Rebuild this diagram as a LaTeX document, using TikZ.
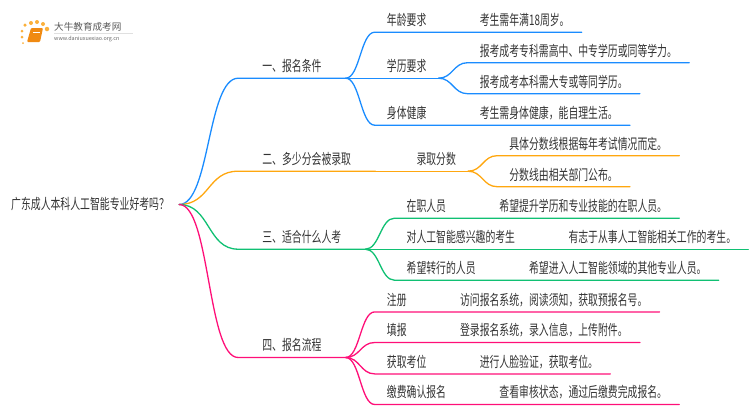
\documentclass[tikz,border=0pt]{standalone}
\usepackage{fontspec}
\setmainfont[FakeStretch=0.68]{Noto Sans CJK SC}
\newfontfamily\logofont{Noto Sans CJK SC}
\usetikzlibrary{positioning}
\definecolor{mapblue}{HTML}{1A8CFF}
\definecolor{maporange}{HTML}{FFA70F}
\definecolor{mapgreen}{HTML}{10C073}
\definecolor{mappink}{HTML}{FF0F78}
\definecolor{maptext}{HTML}{333333}
\definecolor{logogold}{HTML}{FBB03B}
\definecolor{logobook}{HTML}{F08A12}
\begin{document}
\begin{tikzpicture}[x=1pt,y=-1pt,font=\fontsize{14.5pt}{16pt}\selectfont,text=maptext,node distance=29pt,
  rt/.style={inner xsep=10pt,inner ysep=0pt,anchor=west},
  br/.style={inner xsep=24pt,inner ysep=5pt,text height=12.5pt,text depth=1.5pt},
  kid/.style={inner xsep=12pt,inner ysep=5pt,text height=12.5pt,text depth=1.5pt},
  wire/.style={line width=1.3pt,line cap=round},
  kink/.style={to path={.. controls +(#1,0) and +(-#1,0) .. (\tikztotarget)}},
  dot/.style={circle,fill=logogold,inner sep=0pt}]
  \useasboundingbox (0,0) rectangle (750,410);
  % logo
  \node[dot,minimum size=3pt] (d1) at (22,31) {};
  \node[dot,minimum size=3pt] (d2) at (22,37) {};
  \node[dot,minimum size=2pt] (d3) at (23,43) {};
  \node[dot,minimum size=3.5pt] (d4) at (25,25) {};
  \node[dot,minimum size=4pt] (d5) at (31,23) {};
  \node[dot,minimum size=4pt] (d6) at (37,22) {};
  \node[dot,minimum size=4pt] (d7) at (43,24) {};
  \node[dot,minimum size=4.5pt] (d8) at (47,29) {};
  \fill[logobook,rounded corners=1pt] (31,28) -- (43,28) -- (40,42) -- (27,42) -- cycle;
  \draw[white,line width=.5pt] (33,32) -- (40,32);
  \draw[black!12,line width=.5pt] (54,33) -- (133,33);
  \node[inner sep=0pt,anchor=west,text=black!65] (logoname) at (54,27)
    {\logofont\fontsize{9.6pt}{11pt}\selectfont 大牛教育成考网};
  \node[inner sep=0pt,anchor=west,text=black!60] (logourl) at (54,39)
    {\logofont\fontsize{5.4pt}{6pt}\selectfont www.daniuxuexiao.org.cn};
  % root and branches
  \node[rt] (root) at (1,204.5) {广东成人本科人工智能专业好考吗？};
  \node[br,right=59pt of root,yshift=138.5pt] (apply) {一、报名条件};
  \node[br,right=59pt of root,yshift=45.5pt] (score) {二、多少分会被录取};
  \node[br,right=59pt of root,yshift=-32.5pt] (who) {三、适合什么人考};
  \node[br,right=59pt of root,yshift=-140.8pt] (flow) {四、报名流程};
  % first branch
  \node[kid,right=of apply,yshift=46pt] (age) {年龄要求};
  \node[kid,right=of age] (ageinfo) {考生需年满18周岁。};
  \node[kid,right=of apply] (edu) {学历要求};
  \node[kid,right=of edu,yshift=15.5pt] (edua) {报考成考专科需高中、中专学历或同等学力。};
  \node[kid,right=of edu,yshift=-15.5pt] (edub) {报考成考本科需大专或等同学历。};
  \node[kid,right=of apply,yshift=-47pt] (body) {身体健康};
  \node[kid,right=of body] (bodyinfo) {考生需身体健康，能自理生活。};
  % second branch
  \node[kid,right=of score] (line) {录取分数};
  \node[kid,right=of line,yshift=15.5pt] (linea) {具体分数线根据每年考试情况而定。};
  \node[kid,right=of line,yshift=-15.5pt] (lineb) {分数线由相关部门公布。};
  % third branch
  \node[kid,right=of who,yshift=31pt] (job) {在职人员};
  \node[kid,right=of job] (jobinfo) {希望提升学历和专业技能的在职人员。};
  \node[kid,right=of who] (fan) {对人工智能感兴趣的考生};
  \node[kid,right=of fan] (faninfo) {有志于从事人工智能相关工作的考生。};
  \node[kid,right=of who,yshift=-31pt] (move) {希望转行的人员};
  \node[kid,right=of move] (moveinfo) {希望进入人工智能领域的其他专业人员。};
  % fourth branch
  \node[kid,right=of flow,yshift=45.6pt] (sign) {注册};
  \node[kid,right=of sign] (signinfo) {访问报名系统，阅读须知，获取预报名号。};
  \node[kid,right=of flow,yshift=15pt] (fill) {填报};
  \node[kid,right=of fill] (fillinfo) {登录报名系统，录入信息，上传附件。};
  \node[kid,right=of flow,yshift=-16.4pt] (seat) {获取考位};
  \node[kid,right=of seat] (seatinfo) {进行人脸验证，获取考位。};
  \node[kid,right=of flow,yshift=-47pt] (pay) {缴费确认报名};
  \node[kid,right=of pay] (payinfo) {查看审核状态，通过后缴费完成报名。};
  % connectors
  \draw[wire,mapblue] (root.east) to[kink=31] (apply.south west) -- (apply.south east);
  \draw[wire,maporange] (root.east) to[kink=31] (score.south west) -- (score.south east);
  \draw[wire,mapgreen] (root.east) to[kink=31] (who.south west) -- (who.south east);
  \draw[wire,mappink] (root.east) to[kink=31] (flow.south west) -- (flow.south east);
  \draw[wire,mapblue] (apply.south east) to[kink=14] (age.south west) -- (ageinfo.south east);
  \draw[wire,mapblue] (apply.south east) -- (edu.south west) -- (edu.south east);
  \draw[wire,mapblue] (edu.south east) to[kink=14] (edua.south west) -- (edua.south east);
  \draw[wire,mapblue] (edu.south east) to[kink=14] (edub.south west) -- (edub.south east);
  \draw[wire,mapblue] (apply.south east) to[kink=14] (body.south west) -- (bodyinfo.south east);
  \draw[wire,maporange] (score.south east) -- (line.south west) -- (line.south east);
  \draw[wire,maporange] (line.south east) to[kink=14] (linea.south west) -- (linea.south east);
  \draw[wire,maporange] (line.south east) to[kink=14] (lineb.south west) -- (lineb.south east);
  \draw[wire,mapgreen] (who.south east) to[kink=14] (job.south west) -- (jobinfo.south east);
  \draw[wire,mapgreen] (who.south east) -- (fan.south west) -- (faninfo.south east);
  \draw[wire,mapgreen] (who.south east) to[kink=14] (move.south west) -- (moveinfo.south east);
  \draw[wire,mappink] (flow.south east) to[kink=14] (sign.south west) -- (signinfo.south east);
  \draw[wire,mappink] (flow.south east) to[kink=14] (fill.south west) -- (fillinfo.south east);
  \draw[wire,mappink] (flow.south east) to[kink=14] (seat.south west) -- (seatinfo.south east);
  \draw[wire,mappink] (flow.south east) to[kink=14] (pay.south west) -- (payinfo.south east);
\end{tikzpicture}
\end{document}
